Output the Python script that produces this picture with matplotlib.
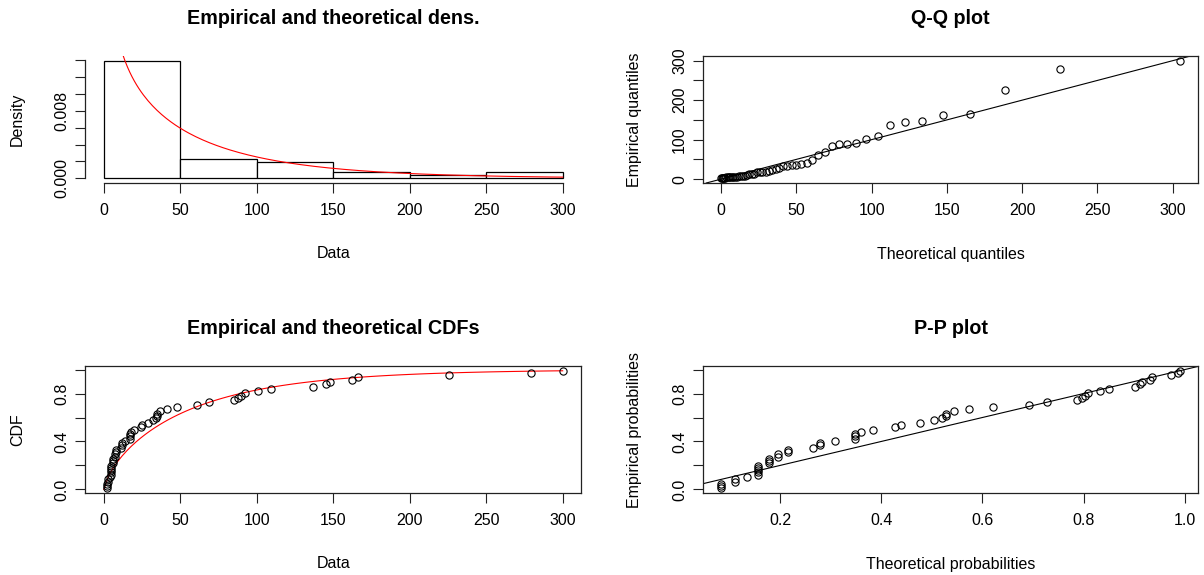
import math
import numpy as np
import matplotlib
matplotlib.use("Agg")
import matplotlib.pyplot as plt

plt.rcParams['font.family'] = ['Liberation Sans', 'DejaVu Sans']

data = np.array([2, 2, 2, 3, 3, 4, 5, 5, 5, 5, 5, 6, 6, 6, 7, 7, 8, 8,
                 11, 12, 12, 14, 17, 17, 17, 18, 20, 24, 25, 29, 32, 34,
                 35, 35, 37, 41, 48, 61, 69, 85, 88, 90, 92, 101, 109,
                 137, 145, 148, 162, 166, 226, 279, 300], dtype=float)

# fitted gamma distribution
shape = 0.70
rate = 0.0129

hist_breaks = [0, 50, 100, 150, 200, 250, 300]
data_ticks = [0, 50, 100, 150, 200, 250, 300]
dens_ticks = [0.000, 0.002, 0.004, 0.006, 0.008, 0.010, 0.012, 0.014]
dens_labels = ["0.000", "", "", "", "0.008", "", "", ""]
prob_ticks = [0.0, 0.2, 0.4, 0.6, 0.8, 1.0]
prob_labels = ["0.0", "", "0.4", "", "0.8", ""]
pp_xticks = [0.2, 0.4, 0.6, 0.8, 1.0]
pp_xlabels = ["0.2", "0.4", "0.6", "0.8", "1.0"]
qq_ticks = [0, 50, 100, 150, 200, 250, 300]
qq_ylabels = ["0", "", "100", "", "200", "", "300"]

titles = ["Empirical and theoretical dens.", "Q-Q plot",
          "Empirical and theoretical CDFs", "P-P plot"]
xlabels = ["Data", "Theoretical quantiles", "Data", "Theoretical probabilities"]
ylabels = ["Density", "Empirical quantiles", "CDF", "Empirical probabilities"]


def gamma_pdf(x):
    x = np.asarray(x, dtype=float)
    return np.exp((shape - 1) * np.log(x) - rate * x + shape * np.log(rate) - math.lgamma(shape))


def _gamma_p(a, x):
    if x <= 0:
        return 0.0
    lead = math.exp(-x + a * math.log(x) - math.lgamma(a))
    if x < a + 1:
        ap = a
        term = s = 1.0 / a
        for _ in range(1000):
            ap += 1
            term *= x / ap
            s += term
            if abs(term) < abs(s) * 1e-15:
                break
        return s * lead
    b = x + 1 - a
    c = 1e300
    d = 1.0 / b
    h = d
    for i in range(1, 1000):
        an = -i * (i - a)
        b += 2
        d = an * d + b
        d = d if abs(d) > 1e-300 else 1e-300
        c = b + an / c
        c = c if abs(c) > 1e-300 else 1e-300
        d = 1.0 / d
        h *= d * c
        if abs(d * c - 1) < 1e-15:
            break
    return 1.0 - lead * h


def gamma_cdf(x):
    return np.array([_gamma_p(shape, rate * v) for v in np.atleast_1d(x)])


def gamma_ppf(p):
    out = []
    for q in np.atleast_1d(p):
        lo, hi = 0.0, 100.0 / rate
        for _ in range(200):
            mid = 0.5 * (lo + hi)
            if _gamma_p(shape, rate * mid) < q:
                lo = mid
            else:
                hi = mid
        out.append(0.5 * (lo + hi))
    return np.array(out)


def r_range(lo, hi):
    d = 0.04 * (hi - lo)
    return lo - d, hi + d


obs = np.sort(data)
n = len(obs)
pp = (np.arange(1, n + 1) - 0.5) / n
theo_q = gamma_ppf(pp)
theo_p = gamma_cdf(obs)

fig = plt.figure(figsize=(12.04, 5.75), dpi=100)
W, H = 1204.0, 575.0


def make_axes(x0, x1, ytop, ybot):
    return fig.add_axes([x0 / W, 1 - ybot / H, (x1 - x0) / W, (ybot - ytop) / H])


ax1 = make_axes(85.5, 581, 56, 183)
ax2 = make_axes(703, 1198, 56, 183)
ax3 = make_axes(85.5, 581, 366, 493)
ax4 = make_axes(703, 1198, 366, 493)
axes = [ax1, ax2, ax3, ax4]

mk = dict(marker='o', linestyle='none', ms=5.2, mfc='none', mec='black', mew=0.8)

# density panel
counts, _ = np.histogram(obs, bins=hist_breaks, density=True)
ax1.hist(obs, bins=hist_breaks, density=True, facecolor='white',
         edgecolor='black', linewidth=0.9)
xs = np.linspace(obs.min(), obs.max(), 201)
ax1.plot(xs, gamma_pdf(xs), color='red', lw=0.8)
ax1.set_xlim(*r_range(0, 300))
ax1.set_ylim(*r_range(0, counts.max()))
ax1.set_xticks(data_ticks)
ax1.set_yticks(dens_ticks)
ax1.set_yticklabels(dens_labels)
for s in ['top', 'right']:
    ax1.spines[s].set_visible(False)
ax1.spines['left'].set_bounds(0, dens_ticks[-1])
ax1.spines['bottom'].set_bounds(0, 300)

# Q-Q panel
ax2.plot(theo_q, obs, **mk)
ax2.axline((0, 0), slope=1, color='black', lw=0.8)
ax2.set_xlim(*r_range(theo_q.min(), theo_q.max()))
ax2.set_ylim(*r_range(obs.min(), obs.max()))
ax2.set_xticks(qq_ticks)
ax2.set_yticks(qq_ticks)
ax2.set_yticklabels(qq_ylabels)

# CDF panel
xc = np.linspace(0, 300, 101)
ax3.plot(xc, gamma_cdf(xc), color='red', lw=0.8)
ax3.plot(obs, pp, **mk)
ax3.set_xlim(*r_range(0, 300))
ax3.set_ylim(*r_range(pp.min(), pp.max()))
ax3.set_xticks(data_ticks)
ax3.set_yticks(prob_ticks)
ax3.set_yticklabels(prob_labels)

# P-P panel
ax4.plot(theo_p, pp, **mk)
ax4.axline((0, 0), slope=1, color='black', lw=0.8)
ax4.set_xlim(*r_range(theo_p.min(), theo_p.max()))
ax4.set_ylim(*r_range(pp.min(), pp.max()))
ax4.set_xticks(pp_xticks)
ax4.set_xticklabels(pp_xlabels)
ax4.set_yticks(prob_ticks)
ax4.set_yticklabels(prob_labels)

for ax, t, xl, yl in zip(axes, titles, xlabels, ylabels):
    h_px = ax.get_position().height * H
    w_px = ax.get_position().width * W
    for s in ax.spines.values():
        s.set_linewidth(0.9)
        s.set_color('#222222')
    ax.tick_params(direction='out', length=7, width=0.8, colors='#222222',
                   labelsize=11.5, labelcolor='black')
    ax.tick_params(axis='x', pad=7.5)
    ax.tick_params(axis='y', pad=4.5, labelrotation=90)
    for lab in ax.get_yticklabels():
        lab.set_va('center')
    ax.set_title(t, fontsize=14.2, fontweight='bold', va='center',
                 y=1 + 38 / h_px, pad=0)
    ax.set_xlabel(xl, fontsize=11.5, va='center')
    ax.set_ylabel(yl, fontsize=11.5, va='center')
    ax.xaxis.set_label_coords(0.5, -71 / h_px)
    ax.yaxis.set_label_coords(-68 / w_px, 0.5)

fig.savefig("out.png", dpi=100)
